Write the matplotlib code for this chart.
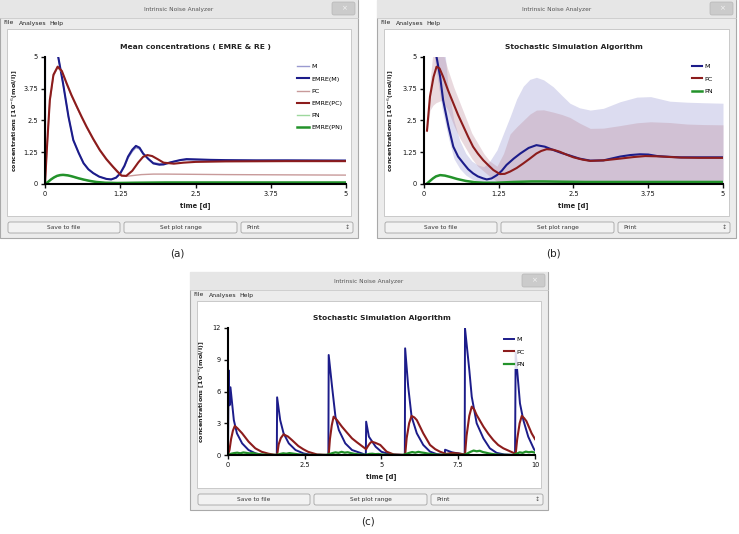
import numpy as np
import matplotlib.pyplot as plt
from matplotlib.patches import Rectangle, FancyBboxPatch
from matplotlib.ticker import FuncFormatter

# ---- data ----
# (a) mean concentrations, EMRE & RE
a_m_emre_t = [0, 0, 0.10, 0.18, 0.22, 0.30, 0.39, 0.47, 0.56, 0.64, 0.72, 0.80, 0.90, 1.02, 1.10,
              1.18, 1.25, 1.32, 1.38, 1.45, 1.51, 1.57, 1.63, 1.72, 1.80, 1.90, 1.97, 2.10, 2.24,
              2.35, 2.50, 2.75, 3.0, 3.5, 4.0, 5.0]
a_m_emre = [0, 7.5, 7.0, 6.0, 5.0, 3.96, 2.65, 1.73, 1.22, 0.82, 0.58, 0.43, 0.29, 0.20, 0.18,
            0.25, 0.42, 0.72, 1.08, 1.35, 1.50, 1.43, 1.20, 0.98, 0.81, 0.76, 0.77, 0.86, 0.94,
            0.98, 0.97, 0.95, 0.94, 0.93, 0.93, 0.92]
a_m_re = [0, 7.5, 7.0, 6.0, 5.0, 3.96, 2.65, 1.73, 1.22, 0.82, 0.58, 0.43, 0.29, 0.20, 0.18,
          0.24, 0.40, 0.68, 1.02, 1.28, 1.43, 1.38, 1.18, 0.98, 0.84, 0.80, 0.81, 0.87, 0.93,
          0.95, 0.95, 0.94, 0.93, 0.93, 0.93, 0.93]
a_pc_emre_t = [0, 0.03, 0.08, 0.14, 0.21, 0.28, 0.36, 0.44, 0.53, 0.61, 0.69, 0.80, 0.91, 1.02,
               1.13, 1.20, 1.27, 1.35, 1.45, 1.55, 1.63, 1.70, 1.78, 1.87, 1.97, 2.14, 2.30,
               2.50, 3.0, 4.0, 5.0]
a_pc_emre = [0, 1.34, 3.30, 4.30, 4.62, 4.45, 3.96, 3.50, 3.04, 2.64, 2.26, 1.78, 1.34, 0.98,
             0.68, 0.50, 0.33, 0.32, 0.52, 0.85, 1.07, 1.14, 1.10, 0.98, 0.84, 0.80, 0.84,
             0.87, 0.89, 0.90, 0.90]
a_pc_re_t = [0, 0.03, 0.08, 0.14, 0.21, 0.28, 0.36, 0.44, 0.53, 0.61, 0.69, 0.80, 0.91, 1.02,
             1.13, 1.20, 1.27, 1.35, 1.45, 1.60, 1.80, 2.0, 2.5, 3.0, 4.0, 5.0]
a_pc_re = [0, 1.30, 3.25, 4.25, 4.58, 4.42, 3.93, 3.47, 3.01, 2.61, 2.23, 1.75, 1.31, 0.95,
           0.65, 0.47, 0.33, 0.30, 0.33, 0.37, 0.39, 0.39, 0.38, 0.37, 0.36, 0.35]
a_pn_t = [0, 0.05, 0.10, 0.15, 0.20, 0.25, 0.30, 0.38, 0.45, 0.55, 0.65, 0.75, 0.85, 1.0, 1.2,
          1.5, 2.0, 2.5, 3.0, 4.0, 5.0]
a_pn_emre = [0, 0.08, 0.18, 0.26, 0.32, 0.35, 0.36, 0.34, 0.30, 0.23, 0.17, 0.12, 0.08, 0.05,
             0.04, 0.05, 0.06, 0.06, 0.06, 0.06, 0.06]
a_pn_re = [0, 0.08, 0.17, 0.25, 0.31, 0.34, 0.35, 0.33, 0.29, 0.22, 0.16, 0.11, 0.07, 0.05,
           0.04, 0.04, 0.05, 0.05, 0.05, 0.05, 0.05]

# (b) SSA mean + spread
b_m_t = [0.05, 0.12, 0.18, 0.21, 0.27, 0.32, 0.41, 0.49, 0.57, 0.66, 0.74, 0.82, 0.90, 0.99,
         1.05, 1.13, 1.22, 1.30, 1.38, 1.50, 1.61, 1.75, 1.88, 2.02, 2.16, 2.30, 2.44, 2.60,
         2.78, 3.0, 3.28, 3.45, 3.61, 3.75, 3.90, 4.10, 4.28, 4.60, 5.0]
b_m = [8.0, 7.0, 5.9, 5.0, 4.22, 3.30, 2.26, 1.47, 1.08, 0.81, 0.58, 0.42, 0.30, 0.22, 0.18,
       0.22, 0.35, 0.52, 0.75, 1.0, 1.20, 1.42, 1.53, 1.47, 1.34, 1.22, 1.12, 1.0, 0.92, 0.93,
       1.08, 1.14, 1.17, 1.16, 1.10, 1.07, 1.05, 1.05, 1.05]
b_pc_t = [0.05, 0.10, 0.16, 0.21, 0.26, 0.32, 0.40, 0.49, 0.57, 0.66, 0.74, 0.82, 0.90, 0.99,
          1.08, 1.16, 1.27, 1.35, 1.44, 1.55, 1.66, 1.77, 1.88, 1.96, 2.05, 2.16, 2.27, 2.40,
          2.50, 2.65, 2.78, 3.0, 3.28, 3.50, 3.70, 3.90, 4.30, 4.60, 5.0]
b_pc = [2.10, 3.44, 4.22, 4.62, 4.55, 4.22, 3.70, 3.18, 2.72, 2.26, 1.85, 1.47, 1.20, 0.94,
        0.73, 0.55, 0.39, 0.40, 0.49, 0.63, 0.81, 1.0, 1.20, 1.30, 1.37, 1.35, 1.27, 1.14,
        1.05, 0.96, 0.91, 0.93, 1.0, 1.06, 1.10, 1.09, 1.04, 1.03, 1.03]
b_pn_t = [0.05, 0.10, 0.15, 0.20, 0.27, 0.35, 0.45, 0.55, 0.70, 0.85, 1.0, 1.2, 1.5, 1.8, 2.0,
          2.3, 2.7, 3.2, 4.0, 5.0]
b_pn = [0.02, 0.12, 0.22, 0.30, 0.35, 0.33, 0.27, 0.20, 0.12, 0.07, 0.05, 0.05, 0.08, 0.10,
        0.10, 0.09, 0.08, 0.08, 0.08, 0.08]
b_band_t = [0.05, 0.10, 0.15, 0.20, 0.30, 0.40, 0.50, 0.60, 0.70, 0.80, 0.90, 1.0, 1.10, 1.22,
            1.33, 1.44, 1.55, 1.66, 1.77, 1.88, 2.0, 2.16, 2.30, 2.44, 2.60, 2.78, 3.0, 3.28,
            3.56, 3.79, 4.11, 4.40, 4.67, 5.0]
b_m_hi = [9, 9, 9, 8, 6.5, 3.9, 2.5, 1.7, 1.2, 0.9, 0.75, 0.68, 0.9, 1.34, 2.0, 2.65, 3.35,
          3.85, 4.12, 4.2, 4.1, 3.83, 3.5, 3.18, 3.0, 2.91, 2.98, 3.24, 3.42, 3.44, 3.26, 3.22,
          3.2, 3.18]
b_m_lo = [5.5, 5.5, 5.5, 4.5, 3.0, 1.9, 1.0, 0.6, 0.35, 0.2, 0.1, 0.05, 0, 0, 0, 0, 0, 0, 0,
          0, 0, 0, 0, 0, 0, 0, 0, 0, 0, 0, 0, 0, 0, 0]
b_pc_hi = [2.2, 4.0, 5.2, 5.6, 5.3, 4.5, 3.8, 3.2, 2.6, 2.0, 1.6, 1.2, 0.9, 0.7, 1.2, 1.97,
           2.25, 2.5, 2.75, 2.91, 2.92, 2.83, 2.74, 2.62, 2.4, 2.19, 2.2, 2.3, 2.41, 2.45, 2.42,
           2.36, 2.34, 2.33]
b_pc_lo = [2.0, 2.9, 3.1, 3.2, 3.3, 2.9, 2.3, 1.8, 1.4, 1.0, 0.7, 0.5, 0.3, 0.1, 0, 0, 0, 0,
           0, 0, 0, 0, 0, 0, 0, 0, 0, 0, 0, 0, 0, 0, 0, 0]

# (c) single SSA trajectory
c_m_t = [0, 0.02, 0.05, 0.08, 0.19, 0.29, 0.46, 0.67, 0.90, 1.10, 1.59, 1.60, 1.70, 1.81, 1.98,
         2.20, 2.46, 2.70, 3.27, 3.28, 3.39, 3.50, 3.61, 3.82, 4.04, 4.36, 4.49, 4.50, 4.59,
         4.81, 5.0, 5.3, 5.76, 5.77, 5.87, 5.98, 6.15, 6.36, 6.58, 6.80, 7.06, 7.07, 7.30,
         7.50, 7.60, 7.71, 7.72, 7.86, 7.94, 8.10, 8.32, 8.53, 8.75, 9.0, 9.35, 9.37, 9.51,
         9.62, 9.78, 9.97, 10.0]
c_m = [0, 8.0, 4.7, 6.4, 3.3, 2.05, 1.1, 0.47, 0.15, 0.02, 0, 5.45, 3.3, 2.05, 1.1, 0.47, 0.15,
       0.02, 0, 9.45, 6.45, 3.62, 2.36, 1.1, 0.47, 0.15, 0, 3.15, 1.73, 0.78, 0.3, 0.05, 0,
       10.08, 6.45, 3.62, 2.05, 0.95, 0.32, 0.08, 0, 0.5, 0.25, 0.15, 0.1, 0.02, 11.97, 8.03,
       5.5, 3.0, 1.57, 0.63, 0.2, 0.05, 0, 9.7, 4.88, 3.3, 1.73, 0.53, 0.45]
c_pc_t = [0, 0.05, 0.10, 0.16, 0.22, 0.30, 0.46, 0.67, 0.89, 1.10, 1.32, 1.50, 1.60, 1.65, 1.72,
          1.81, 1.95, 2.08, 2.29, 2.45, 2.61, 2.90, 3.28, 3.32, 3.38, 3.44, 3.55, 3.71, 3.88,
          4.04, 4.20, 4.36, 4.50, 4.55, 4.62, 4.68, 4.80, 4.96, 5.17, 5.40, 5.77, 5.82, 5.90,
          5.98, 6.07, 6.15, 6.36, 6.58, 6.75, 6.90, 7.10, 7.30, 7.50, 7.72, 7.77, 7.86, 7.94,
          8.02, 8.10, 8.32, 8.48, 8.64, 8.80, 8.97, 9.30, 9.37, 9.42, 9.50, 9.57, 9.64, 9.72,
          9.89, 10.0]
c_pc = [0, 0.5, 1.5, 2.3, 2.74, 2.55, 2.05, 1.26, 0.63, 0.3, 0.12, 0.03, 0, 1.0, 1.6, 1.95,
        1.75, 1.42, 0.85, 0.55, 0.3, 0.05, 0, 1.5, 2.8, 3.62, 3.3, 2.68, 2.1, 1.57, 1.2, 0.85,
        0.55, 0.8, 1.1, 1.26, 1.15, 0.95, 0.31, 0.05, 0, 1.6, 3.0, 3.69, 3.55, 3.3, 2.05, 0.95,
        0.55, 0.32, 0.1, 0.2, 0.15, 0.05, 1.8, 3.7, 4.57, 4.3, 3.78, 2.68, 2.0, 1.42, 0.95,
        0.63, 0.2, 0.1, 1.5, 3.0, 3.69, 3.5, 3.2, 2.05, 1.5]
c_pn_t = np.linspace(0, 10, 101)
c_pn = [0.0, 0.12, 0.18, 0.22, 0.16, 0.24, 0.20, 0.15, 0.20, 0.12,
        0.08, 0.05, 0.03, 0.02, 0.01, 0.01, 0.02, 0.10, 0.16, 0.12,
        0.18, 0.14, 0.10, 0.06, 0.04, 0.02, 0.01, 0.01, 0.0, 0.0,
        0.01, 0.0, 0.01, 0.08, 0.18, 0.25, 0.20, 0.30, 0.22, 0.26,
        0.18, 0.12, 0.08, 0.05, 0.03, 0.03, 0.10, 0.12, 0.08, 0.10,
        0.05, 0.03, 0.02, 0.01, 0.01, 0.0, 0.0, 0.01, 0.10, 0.20,
        0.28, 0.22, 0.30, 0.24, 0.20, 0.14, 0.10, 0.06, 0.04, 0.02,
        0.02, 0.03, 0.02, 0.01, 0.01, 0.0, 0.01, 0.02, 0.15, 0.30,
        0.42, 0.35, 0.40, 0.28, 0.22, 0.15, 0.10, 0.06, 0.04, 0.02,
        0.01, 0.01, 0.0, 0.01, 0.12, 0.25, 0.20, 0.32, 0.26, 0.30,
        0.22]

# colours
BLUE, LBLUE = '#1c1c8a', '#9a9ad0'
RED, LRED = '#8c1c1c', '#c89a9a'
GREEN, LGREEN = '#23922a', '#9ed89e'

W, H = 739, 534
fig = plt.figure(figsize=(W / 100, H / 100), dpi=100)
bg = fig.add_axes([0, 0, 1, 1])
bg.set_xlim(0, W)
bg.set_ylim(H, 0)
bg.axis('off')


def frac(x0, y0, x1, y1):
    return [x0 / W, 1 - y1 / H, (x1 - x0) / W, (y1 - y0) / H]


def button(x0, y0, x1, y1, label, left=False):
    bg.add_patch(FancyBboxPatch((x0, y0), x1 - x0, y1 - y0,
                                boxstyle='round,pad=0,rounding_size=2',
                                fc='#f2f2f2', ec='#a4a4a4', lw=0.6))
    if left:
        bg.text(x0 + 5, (y0 + y1) / 2, label, ha='left', va='center', fontsize=4.2, color='#333333')
        bg.text(x1 - 6, (y0 + y1) / 2, '\u2195', ha='center', va='center', fontsize=4.4, color='#555555')
    else:
        bg.text((x0 + x1) / 2, (y0 + y1) / 2, label, ha='center', va='center', fontsize=4.2, color='#333333')


def window(x0, y0, x1, y1):
    bg.add_patch(Rectangle((x0, y0), x1 - x0, y1 - y0, fc='#ececec', ec='#a9a9a9', lw=0.8))
    bg.add_patch(Rectangle((x0, y0), x1 - x0, 18, fc='#e6e6e6', ec='none'))
    bg.plot([x0, x1], [y0 + 18, y0 + 18], color='#cacaca', lw=0.6)
    bg.text((x0 + x1) / 2, y0 + 10, 'Intrinsic Noise Analyzer', ha='center', va='center',
            fontsize=4.2, color='#555555')
    bg.add_patch(FancyBboxPatch((x1 - 26, y0 + 2), 23, 13, boxstyle='round,pad=0,rounding_size=2',
                                fc='#cbcbcb', ec='#b6b6b6', lw=0.5))
    bg.text(x1 - 14.5, y0 + 8.5, '\u00d7', ha='center', va='center', fontsize=5, color='#f4f4f4')
    for xo, word in [(3, 'File'), (19, 'Analyses'), (49, 'Help')]:
        bg.text(x0 + xo, y0 + 23, word, ha='left', va='center', fontsize=4.4, color='#222222')
    bg.add_patch(Rectangle((x0 + 7, y0 + 29), x1 - x0 - 14, 187, fc='white', ec='#c2c2c2', lw=0.6))
    button(x0 + 8, y0 + 222, x0 + 120, y0 + 233, 'Save to file')
    button(x0 + 124, y0 + 222, x0 + 237, y0 + 233, 'Set plot range')
    button(x0 + 241, y0 + 222, x0 + 353, y0 + 233, 'Print', left=True)


def style(ax, ticks, title, ylab_x):
    for s in ('top', 'right'):
        ax.spines[s].set_visible(False)
    for s in ('left', 'bottom'):
        ax.spines[s].set_linewidth(1.5)
    ax.set_xticks(ticks[0])
    ax.set_yticks(ticks[1])
    fmt = FuncFormatter(lambda v, p: '%g' % v)
    ax.xaxis.set_major_formatter(fmt)
    ax.yaxis.set_major_formatter(fmt)
    ax.tick_params(labelsize=4.8, length=3, width=1, pad=2, colors='#111111')
    ax.set_title(title, fontsize=5.4, fontweight='bold', pad=6, color='#222222')
    ax.set_xlabel('time [d]', fontsize=4.9, fontweight='bold', labelpad=4, color='#222222')
    ax.set_ylabel(r'concentrations [10$^{-6}$(mol/l)]', fontsize=4.6, fontweight='bold',
                  color='#222222')
    ax.yaxis.set_label_coords(ylab_x, 0.5)
    ax.patch.set_alpha(0)


window(0, 0, 358, 238)
window(377, 0, 736, 238)
window(190, 272, 548, 510)

t5 = [0, 1.25, 2.5, 3.75, 5]

# (a)
ax = fig.add_axes(frac(45, 57, 346, 184))
ax.plot(a_m_emre_t, a_m_re, color=LBLUE, lw=1.0, label='M')
ax.plot(a_m_emre_t, a_m_emre, color=BLUE, lw=1.5, label='EMRE(M)')
ax.plot(a_pc_re_t, a_pc_re, color=LRED, lw=1.0, label='PC')
ax.plot(a_pc_emre_t, a_pc_emre, color=RED, lw=1.5, label='EMRE(PC)')
ax.plot(a_pn_t, a_pn_re, color=LGREEN, lw=1.0, label='PN')
ax.plot(a_pn_t, a_pn_emre, color=GREEN, lw=1.8, label='EMRE(PN)')
ax.set_xlim(0, 5)
ax.set_ylim(0, 5)
style(ax, (t5, t5), 'Mean concentrations ( EMRE & RE )', -0.083)
ax.legend(loc='upper left', bbox_to_anchor=(297, 64), bbox_transform=bg.transData,
          frameon=False, fontsize=4.6, handlelength=1.8, handletextpad=0.4,
          labelspacing=1.05, borderpad=0, borderaxespad=0)

# (b)
ax = fig.add_axes(frac(424, 57, 723, 184))
ax.fill_between(b_band_t, b_m_lo, b_m_hi, color='#dcdcf0', lw=0)
ax.fill_between(b_band_t, b_pc_lo, b_pc_hi, color='#b88494', alpha=0.3, lw=0)
ax.plot(b_m_t, b_m, color=BLUE, lw=1.5, label='M')
ax.plot(b_pc_t, b_pc, color=RED, lw=1.5, label='PC')
ax.plot(b_pn_t, b_pn, color=GREEN, lw=1.8, label='PN')
ax.set_xlim(0, 5)
ax.set_ylim(0, 5)
style(ax, (t5, t5), 'Stochastic Simulation Algorithm', -0.092)
ax.legend(loc='upper left', bbox_to_anchor=(692, 64), bbox_transform=bg.transData,
          frameon=False, fontsize=4.6, handlelength=1.5, handletextpad=0.4,
          labelspacing=1.05, borderpad=0, borderaxespad=0)

# (c)
ax = fig.add_axes(frac(228, 328, 535, 455))
ax.plot(c_m_t, c_m, color=BLUE, lw=1.4, label='M')
ax.plot(c_pc_t, c_pc, color=RED, lw=1.5, label='PC')
ax.plot(c_pn_t, c_pn, color=GREEN, lw=1.6, label='PN')
ax.set_xlim(0, 10)
ax.set_ylim(0, 12)
style(ax, ([0, 2.5, 5, 7.5, 10], [0, 3, 6, 9, 12]), 'Stochastic Simulation Algorithm', -0.068)
leg = ax.legend(loc='upper left', bbox_to_anchor=(502, 335), bbox_transform=bg.transData,
                frameon=True, fontsize=4.6, handlelength=1.5, handletextpad=0.4,
                labelspacing=1.05, borderpad=0.3, borderaxespad=0, fancybox=False)
leg.get_frame().set_facecolor('white')
leg.get_frame().set_alpha(0.85)
leg.get_frame().set_edgecolor('none')

for x, y, s in [(177, 253, '(a)'), (553, 253, '(b)'), (368, 522, '(c)')]:
    bg.text(x, y, s, ha='center', va='center', fontsize=7.5, color='#222222')

fig.savefig('out.png', dpi=100)
